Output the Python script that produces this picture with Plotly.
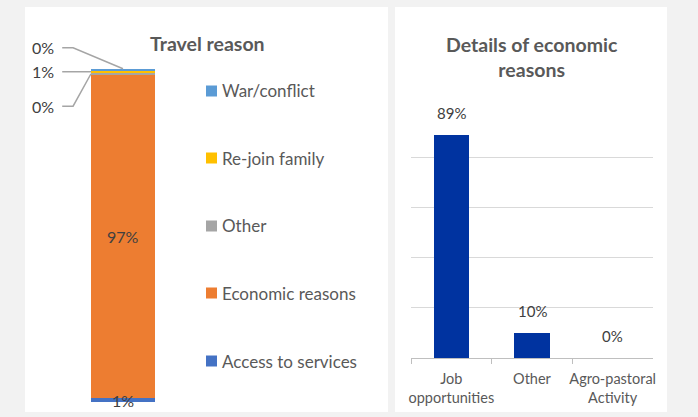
import plotly.graph_objects as go

# Travel reason shares, stacked from bottom to top
reasons = ["Access to services", "Economic reasons", "Other", "Re-join family", "War/conflict"]
reason_share = [1.2, 97.0, 0.2, 1.0, 0.4]
reason_colors = ["#4472C4", "#ED7D31", "#A5A5A5", "#FFC000", "#5B9BD5"]

# Breakdown of the economic reasons
econ_categories = ["Job<br>opportunities", "Other", "Agro-pastoral<br>Activity"]
econ_share = [89, 10, 0]
econ_color = "#0033A0"

W, H = 698, 417
FONT = "Lato"
TXT = "#404040"
GREY = "#595959"


def px(x):
    return x / W


def py(y):
    return 1 - y / H


fig = go.Figure()

# ---- left: stacked single column -------------------------------------------
for name, val, col in zip(reasons, reason_share, reason_colors):
    fig.add_trace(go.Bar(x=[0], y=[val], width=1.0, name=name, marker_color=col,
                         marker_line_width=0, xaxis="x", yaxis="y",
                         showlegend=False, hoverinfo="name+y"))

bottoms = [sum(reason_share[:i]) for i in range(len(reason_share))]
annotations = []

# labels drawn inside the two visible segments
for i in (0, 1):
    annotations.append(dict(x=0, y=bottoms[i] + reason_share[i] / 2, xref="x", yref="y",
                            text=f"{reason_share[i]:.0f}%", showarrow=False,
                            font=dict(family=FONT, size=16, color=TXT)))

# thin segments get call-out labels with elbow leader lines
callouts = {  # index -> (label y, x where the leader meets the bar)
    4: (106.1, 0.0),
    3: (98.9, -0.5),
    2: (88.6, -0.5),
}
for i, (ly, bx) in callouts.items():
    if i == len(reason_share) - 1:
        by = bottoms[i] + reason_share[i]
    else:
        by = bottoms[i] + reason_share[i] / 2
    fig.add_trace(go.Scatter(x=[-0.95, -0.78, bx], y=[ly, ly, by], mode="lines",
                             line=dict(color="#A5A5A5", width=1.5),
                             xaxis="x", yaxis="y", showlegend=False, hoverinfo="skip"))
    annotations.append(dict(x=-1.04, y=ly, xref="x", yref="y", xanchor="right",
                            text=f"{reason_share[i]:.0f}%", showarrow=False,
                            font=dict(family=FONT, size=16, color=TXT)))

# legend, top entry first
legend_rows = [91, 158, 226, 293, 361]
shapes = [
    dict(type="rect", xref="paper", yref="paper", x0=px(25), x1=px(388), y0=py(412), y1=py(7),
         fillcolor="white", line_width=0, layer="below"),
    dict(type="rect", xref="paper", yref="paper", x0=px(395), x1=px(667), y0=py(412), y1=py(7),
         fillcolor="white", line_width=0, layer="below"),
]
for row, name, col in zip(legend_rows, reasons[::-1], reason_colors[::-1]):
    shapes.append(dict(type="rect", xref="paper", yref="paper",
                       x0=px(206), x1=px(217), y0=py(row + 5.5), y1=py(row - 5.5),
                       fillcolor=col, line_width=0))
    annotations.append(dict(x=px(220), y=py(row), xref="paper", yref="paper",
                            xanchor="left", yanchor="middle", text=name, showarrow=False,
                            font=dict(family=FONT, size=17, color=GREY)))

annotations.append(dict(x=px(207), y=py(43), xref="paper", yref="paper",
                        xanchor="center", yanchor="middle",
                        text="<b>Travel reason</b>", showarrow=False,
                        font=dict(family=FONT, size=19.5, color=GREY)))

# ---- right: economic reasons --------------------------------------------------
fig.add_trace(go.Bar(x=econ_categories, y=econ_share, width=0.44, marker_color=econ_color,
                     marker_line_width=0, xaxis="x2", yaxis="y2", showlegend=False))
for cat, val in zip(econ_categories, econ_share):
    annotations.append(dict(x=cat, y=val, xref="x2", yref="y2", yshift=22,
                            text=f"{val}%", showarrow=False,
                            font=dict(family=FONT, size=15, color=TXT)))

annotations.append(dict(x=px(532), y=py(57), xref="paper", yref="paper",
                        xanchor="center", yanchor="middle",
                        text="<b>Details of economic<br>reasons</b>", showarrow=False,
                        font=dict(family=FONT, size=19.5, color=GREY)))

fig.update_layout(
    width=W, height=H,
    autosize=False,
    margin=dict(l=0, r=0, t=0, b=0, pad=0),
    paper_bgcolor="#F2F2F2",
    plot_bgcolor="white",
    barmode="stack",
    bargap=0,
    showlegend=False,
    font=dict(family=FONT, color=GREY),
    xaxis=dict(domain=[px(27), px(187)], range=[-1.5, 1.0], visible=False,
               fixedrange=True, automargin=False),
    yaxis=dict(domain=[py(402), py(28)], range=[0, 112], visible=False,
               fixedrange=True, automargin=False),
    xaxis2=dict(domain=[px(411), px(653)], anchor="y2", showline=True, linecolor="#BFBFBF",
                linewidth=1, ticks="outside", tickson="boundaries", ticklen=5,
                tickcolor="#BFBFBF", tickangle=0, automargin=False, ticklabelstandoff=8,
                tickfont=dict(family=FONT, size=14.5, color=GREY), showgrid=False),
    yaxis2=dict(domain=[py(358), py(107)], anchor="x2", range=[0, 100], dtick=20,
                showgrid=True, gridcolor="#D9D9D9", gridwidth=1, automargin=False,
                showticklabels=False, zeroline=False),
    shapes=shapes,
    annotations=annotations,
)

fig.write_html("out.html")
